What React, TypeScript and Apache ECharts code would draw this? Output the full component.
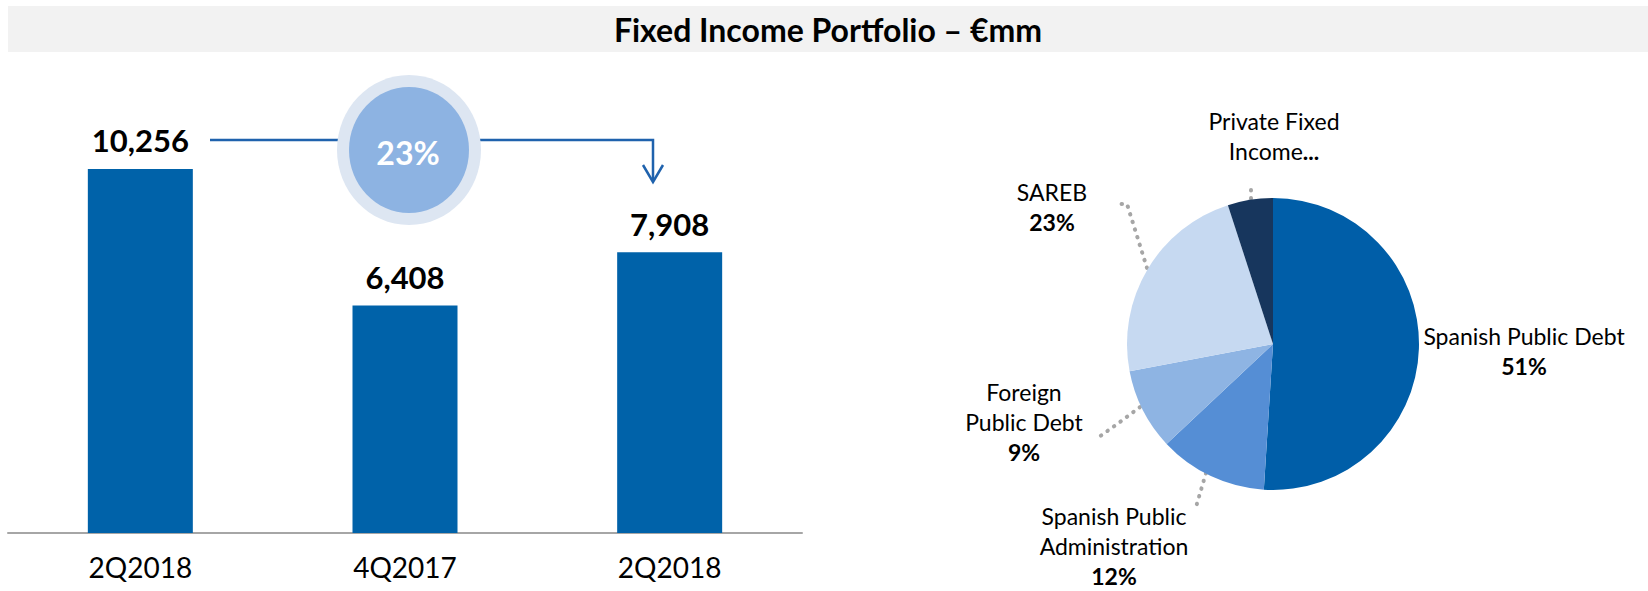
import React, { useEffect, useRef } from "react";
import * as echarts from "echarts";

const categories = ["2Q2018", "4Q2017", "2Q2018 "];
const portfolioValues = [10256, 6408, 7908];
const changeLabel = "23%";

const pieNames = [
  "Spanish Public Debt",
  "Spanish Public Administration",
  "Foreign Public Debt",
  "SAREB",
  "Private Fixed Income",
];
const pieLabelNames = [
  "Spanish Public Debt",
  "Spanish Public\nAdministration",
  "Foreign\nPublic Debt",
  "SAREB",
  "Private Fixed\nIncome",
];
const pieValues = [51, 12, 9, 23, 5];

const pieColors = ["#005ea8", "#558ed5", "#8eb4e3", "#c6d9f1", "#17365d"];

// label layout positions (center of label block) and label line points
const pieLabelLayout = [
  { x: 1524, y: 351, line: null },
  { x: 1114, y: 546, line: [[1206, 473], [1201, 490], [1196, 507]] },
  { x: 1024, y: 422, line: [[1140, 407], [1120, 422], [1099, 437]] },
  { x: 1052, y: 207, line: [[1147, 268], [1127, 204], [1119, 204]] },
  { x: 1274, y: 136, line: [[1251, 190], [1251, 195], [1251, 200]] },
];

const FONT = "Lato, 'Open Sans', sans-serif";

export default function App() {
  const ref = useRef<HTMLDivElement>(null);

  useEffect(() => {
    if (!ref.current) return;
    const chart = echarts.init(ref.current, null, { renderer: "svg" });

    const option: any = {
      animation: false,
      backgroundColor: "#ffffff",
      textStyle: { fontFamily: FONT },
      grid: { left: 8, top: 107, width: 794, height: 426 },
      xAxis: {
        type: "category",
        data: categories,
        axisLine: { show: true, lineStyle: { color: "#a6a6a6", width: 2 } },
        axisTick: { show: false },
        axisLabel: {
          color: "#000",
          fontSize: 28,
          fontFamily: FONT,
          margin: 20,
          formatter: (v: string) => v.trim(),
        },
      },
      yAxis: {
        type: "value",
        min: 0,
        max: 12000,
        show: false,
        splitLine: { show: false },
      },
      series: [
        {
          type: "bar",
          data: portfolioValues,
          barWidth: 105,
          itemStyle: { color: "#0062a9" },
          label: {
            show: true,
            position: "top",
            distance: 13,
            color: "#000",
            fontSize: 31,
            fontWeight: "bold",
            fontFamily: FONT,
            formatter: (p: any) => p.value.toLocaleString("en-US"),
          },
          z: 2,
        },
        {
          type: "pie",
          center: [1273, 344],
          radius: 146,
          startAngle: 90,
          clockwise: true,
          data: pieNames.map((n, i) => ({
            name: n,
            value: pieValues[i],
            itemStyle: { color: pieColors[i] },
            labelLine: { show: i !== 0 },
          })),
          itemStyle: { borderWidth: 0 },
          label: {
            show: true,
            overflow: "none",
            fontFamily: FONT,
            formatter: (p: any) => {
              const i = p.dataIndex;
              if (i === 4) return `{n|${pieLabelNames[i]}}{b|...}`;
              return `{n|${pieLabelNames[i]}}\n{b|${p.value}%}`;
            },
            rich: {
              n: { fontSize: 23, color: "#000", lineHeight: 30, fontFamily: FONT, align: "center" },
              b: { fontSize: 23, color: "#000", lineHeight: 30, fontWeight: "bold", fontFamily: FONT, align: "center" },
            },
          },
          labelLine: {
            show: true,
            lineStyle: { color: "#a6a6a6", width: 4, type: [0.5, 7.5], cap: "round" },
          },
          labelLayout: (params: any) => {
            const l = pieLabelLayout[params.dataIndex];
            const out: any = { x: l.x, y: l.y, align: "center", verticalAlign: "middle" };
            if (l.line) out.labelLinePoints = l.line;
            return out;
          },
        },
      ],
      graphic: [
        {
          type: "rect",
          shape: { x: 8, y: 6, width: 1640, height: 46 },
          style: { fill: "#f2f2f2" },
          z: 0,
        },
        {
          type: "text",
          x: 828,
          y: 29,
          style: {
            text: "Fixed Income Portfolio – €mm",
            fill: "#000",
            font: `bold 32px ${FONT}`,
            align: "center",
            verticalAlign: "middle",
          },
          z: 1,
        },
        {
          type: "polyline",
          shape: { points: [[210, 140], [653, 140], [653, 181]] },
          style: { stroke: "#1f62ad", lineWidth: 2.5, fill: "none" },
          z: 3,
        },
        {
          type: "polyline",
          shape: { points: [[643, 165], [653, 182], [663, 165]] },
          style: { stroke: "#1f62ad", lineWidth: 2.5, fill: "none" },
          z: 3,
        },
        {
          type: "ellipse",
          shape: { cx: 409, cy: 150, rx: 72, ry: 75 },
          style: { fill: "#dde6f2" },
          z: 4,
        },
        {
          type: "ellipse",
          shape: { cx: 409, cy: 150, rx: 60, ry: 63 },
          style: { fill: "#8db3e2" },
          z: 5,
        },
        {
          type: "text",
          x: 408,
          y: 152,
          style: {
            text: changeLabel,
            fill: "#ffffff",
            font: `bold 32px ${FONT}`,
            align: "center",
            verticalAlign: "middle",
          },
          z: 6,
        },
      ],
    };

    chart.setOption(option);
    return () => chart.dispose();
  }, []);

  return (
    <div
      ref={ref}
      style={{ position: "fixed", left: 0, top: 0, width: 1648, height: 591 }}
    />
  );
}
